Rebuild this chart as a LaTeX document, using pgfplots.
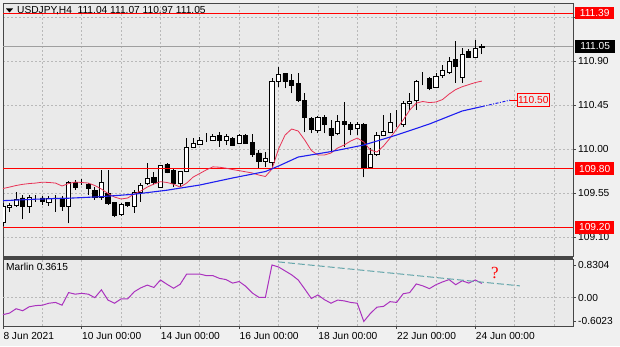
\documentclass[border=0pt]{standalone}
\usepackage{fontspec}
\setmainfont{Liberation Sans}
\newfontfamily\seriffont{Liberation Serif}
\usepackage{pgfplots}
\usepackage{pgfplotstable}
\pgfplotsset{compat=1.18}
\definecolor{figbg}{RGB}{240,240,240}
\definecolor{plotbg}{RGB}{234,234,234}
\definecolor{framec}{RGB}{70,70,70}
\definecolor{gridc}{RGB}{185,185,185}
\definecolor{maRed}{RGB}{232,50,85}
\definecolor{maBlue}{RGB}{30,30,240}
\definecolor{marlinc}{RGB}{170,50,190}
\definecolor{tealc}{RGB}{100,165,170}
\definecolor{lvlred}{RGB}{255,0,0}

\pgfplotstableread{
i O H L C
0 109.25 109.45 109.21 109.41
1 109.40 109.45 109.36 109.42
2 109.42 109.56 109.41 109.49
3 109.50 109.53 109.28 109.41
4 109.41 109.53 109.35 109.51
5 109.51 109.53 109.46 109.51
6 109.50 109.52 109.43 109.46
7 109.45 109.52 109.42 109.49
8 109.50 109.53 109.36 109.49
9 109.50 109.52 109.37 109.41
10 109.41 109.67 109.24 109.66
11 109.66 109.68 109.58 109.61
12 109.66 109.69 109.63 109.66
13 109.64 109.65 109.53 109.60
14 109.58 109.61 109.48 109.51
15 109.51 109.79 109.48 109.66
16 109.55 109.79 109.43 109.44
17 109.45 109.46 109.30 109.32
18 109.33 109.45 109.32 109.43
19 109.45 109.46 109.41 109.42
20 109.41 109.58 109.35 109.56
21 109.56 109.65 109.46 109.63
22 109.65 109.86 109.63 109.70
23 109.71 109.76 109.63 109.66
24 109.61 109.84 109.61 109.83
25 109.84 109.86 109.75 109.76
26 109.78 109.80 109.61 109.65
27 109.65 109.78 109.61 109.77
28 109.77 110.11 109.76 110.02
29 110.02 110.11 110.01 110.06
30 110.05 110.12 110.04 110.09
31 110.10 110.16 110.07 110.10
32 110.09 110.15 110.08 110.13
33 110.14 110.17 110.02 110.09
34 110.09 110.15 110.04 110.13
35 110.11 110.12 110.03 110.04
36 110.06 110.15 110.06 110.14
37 110.14 110.15 110.05 110.06
38 110.07 110.15 109.92 109.94
39 109.96 109.99 109.81 109.87
40 109.87 109.97 109.82 109.90
41 109.86 110.73 109.82 110.69
42 110.69 110.84 110.63 110.76
43 110.77 110.78 110.62 110.69
44 110.70 110.77 110.57 110.65
45 110.67 110.78 110.48 110.50
46 110.50 110.57 110.17 110.32
47 110.31 110.33 110.16 110.20
48 110.19 110.34 110.16 110.32
49 110.32 110.35 110.16 110.25
50 110.21 110.30 109.96 110.14
51 110.16 110.35 110.14 110.28
52 110.28 110.48 110.02 110.25
53 110.25 110.28 110.14 110.20
54 110.21 110.28 110.14 110.25
55 110.25 110.27 109.71 109.81
56 109.81 110.01 109.80 109.94
57 109.94 110.17 109.93 110.14
58 110.14 110.35 110.13 110.18
59 110.17 110.37 110.16 110.27
60 110.27 110.40 110.23 110.27
61 110.25 110.49 110.23 110.47
62 110.47 110.57 110.40 110.49
63 110.50 110.71 110.40 110.69
64 110.71 110.79 110.65 110.71
65 110.72 110.74 110.60 110.62
66 110.63 110.78 110.62 110.74
67 110.75 110.86 110.73 110.80
68 110.78 110.94 110.77 110.90
69 110.92 111.10 110.68 110.84
70 110.73 111.03 110.68 110.97
71 111.00 111.02 110.93 110.94
72 110.94 111.12 110.94 111.03
73 111.04 111.07 110.97 111.05
}\candles

\pgfplotstableread{
i v
0 109.596
1 109.611
2 109.627
3 109.639
4 109.647
5 109.652
6 109.661
7 109.658
8 109.652
9 109.622
10 109.647
11 109.662
12 109.658
13 109.652
14 109.627
15 109.591
16 109.545
17 109.509
18 109.489
19 109.499
20 109.540
21 109.571
22 109.611
23 109.642
24 109.666
25 109.658
26 109.640
27 109.611
28 109.652
29 109.714
30 109.750
31 109.787
32 109.818
33 109.814
34 109.804
35 109.790
36 109.779
37 109.767
38 109.755
39 109.734
40 109.719
41 109.795
42 110.000
43 110.143
44 110.205
45 110.184
46 110.092
47 109.985
48 109.939
49 109.939
50 109.959
51 110.010
52 110.041
53 110.082
54 110.112
55 110.071
56 109.990
57 109.969
58 110.031
59 110.112
60 110.205
61 110.297
62 110.399
63 110.470
64 110.486
65 110.475
66 110.481
67 110.506
68 110.562
69 110.608
70 110.637
71 110.659
72 110.680
73 110.695
}\redma

\pgfplotstableread{
i v
0 109.472
5 109.487
10 109.497
15 109.513
20 109.538
25 109.579
30 109.632
35 109.704
40 109.770
42 109.826
45 109.918
50 109.974
55 110.041
60 110.143
65 110.256
70 110.389
73 110.434
}\bluema

\pgfplotstableread{
i v
0 -0.43
1 -0.39
2 -0.28
3 -0.33
4 -0.23
5 -0.20
6 -0.19
7 -0.14
8 -0.12
9 -0.19
10 0.13
11 0.09
12 0.11
13 0.09
14 0.00
15 0.20
16 -0.06
17 -0.14
18 -0.03
19 -0.03
20 0.15
21 0.25
22 0.32
23 0.26
24 0.45
25 0.34
26 0.24
27 0.34
28 0.60
29 0.60
30 0.60
31 0.56
32 0.56
33 0.49
34 0.46
35 0.37
36 0.41
37 0.29
38 0.12
39 0.01
40 0.01
41 0.83
42 0.78
43 0.68
44 0.58
45 0.45
46 0.22
47 -0.02
48 0.07
49 -0.05
50 -0.14
51 -0.06
52 -0.08
53 -0.12
54 -0.14
55 -0.6023
56 -0.40
57 -0.24
58 -0.22
59 -0.10
60 -0.12
61 0.10
62 0.13
63 0.35
64 0.30
65 0.23
66 0.33
67 0.40
68 0.46
69 0.33
70 0.43
71 0.37
72 0.45
73 0.3615
}\marlin

\pgfplotsset{
  paneX/.style={scale only axis, width=570pt, xmin=0, xmax=86.89, enlargelimits=false,
    axis line style={framec, line width=0.8pt},
    tick label style={font=\fontsize{10.2pt}{12pt}\selectfont}},
  mainpane/.style={paneX, height=253pt, ymin=108.906, ymax=111.4935, at={(3pt,90pt)}, anchor=south west},
  indpane/.style={paneX, height=67pt, ymin=-0.718, ymax=0.982, at={(3pt,20pt)}, anchor=south west},
  mygrid/.style={gridc, dash pattern=on 2pt off 2pt, line width=0.7pt},
}

\begin{document}
\begin{tikzpicture}[font=\fontsize{10.2pt}{12pt}\selectfont]
\fill[figbg] (0,0) rectangle (620pt,346pt);
\useasboundingbox (0,0) rectangle (620pt,346pt);

% main pane: grid, ticks, wicks
\begin{axis}[mainpane, axis background/.style={fill=plotbg},
  xtick={0,6,...,84}, xticklabels={}, xtick style={draw=none}, xmajorgrids,
  ytick={109.10,109.55,110.00,110.45,110.90,111.35}, ymajorgrids,
  yticklabels={109.10,109.55,110.00,110.45,110.90,{}},
  ytick pos=right, yticklabel pos=right,
  tick align=outside, major tick length=3pt, ytick style={framec, line width=0.8pt},
  grid style={mygrid},
  yticklabel style={anchor=west, inner sep=0pt, xshift=2pt}]
  \addplot[gray!75, line width=0.7pt] coordinates {(0,111.05) (86.89,111.05)};
  \addplot[draw=none, error bars/.cd, y dir=plus, y explicit, error mark=none,
    error bar style={draw=black, line width=0.9pt, solid}]
    table[x=i, y=L, y error plus expr={\thisrow{H}-\thisrow{L}}] {\candles};
\end{axis}

% candle bodies
\begin{axis}[mainpane, hide axis, ybar stacked, bar width=4.2pt]
  \addplot[draw=none, fill=none] table[x=i, y expr={min(\thisrow{O},\thisrow{C})}] {\candles};
  \addplot[draw=black, fill=black, line width=0.8pt] table[x=i, y expr={max(\thisrow{O}-\thisrow{C},0)}] {\candles};
  \addplot[draw=black, fill=white, line width=0.8pt] table[x=i, y expr={max(\thisrow{C}-\thisrow{O},0)}] {\candles};
\end{axis}

% overlay: levels, moving averages, labels
\begin{axis}[mainpane, hide axis, clip=false]
  \addplot[lvlred, line width=0.8pt] coordinates {(0,111.39) (86.89,111.39)};
  \addplot[lvlred, line width=0.8pt] coordinates {(0,109.80) (86.89,109.80)};
  \addplot[lvlred, line width=0.8pt] coordinates {(0,109.20) (86.89,109.20)};
  \addplot[maRed, line width=0.8pt] table[x=i, y=v] {\redma};
  \addplot[maBlue, line width=1.1pt] table[x=i, y=v] {\bluema};
  \addplot[maBlue, line width=1pt, dash pattern=on 3pt off 1.5pt on 1pt off 1.5pt] coordinates {(73,110.434) (77.3,110.50)};
  \addplot[lvlred, line width=0.8pt] coordinates {(77.3,110.50) (78.3,110.50)};
  \node[draw=lvlred, fill=plotbg, text=lvlred, anchor=west, inner xsep=1pt, inner ysep=0pt,
    minimum height=13pt, line width=0.8pt] at (axis cs:78.3,110.50) {110.50};
  \node[fill=lvlred, text=white, anchor=west, minimum width=39pt, minimum height=12.5pt, inner sep=0pt, xshift=2pt]
    at (axis cs:86.89,111.39) {111.39};
  \node[fill=lvlred, text=white, anchor=west, minimum width=39pt, minimum height=12.5pt, inner sep=0pt, xshift=2pt]
    at (axis cs:86.89,109.80) {109.80};
  \node[fill=lvlred, text=white, anchor=west, minimum width=39pt, minimum height=12.5pt, inner sep=0pt, xshift=2pt]
    at (axis cs:86.89,109.20) {109.20};
  \node[fill=black, text=white, anchor=west, minimum width=40pt, minimum height=12.5pt, inner sep=0pt, xshift=2pt]
    at (axis cs:86.89,111.05) {111.05};
  \node[anchor=base west, inner sep=0pt, xshift=14pt, yshift=-11pt] at (rel axis cs:0,1)
    {USDJPY,H4\ \ 111.04 111.07 110.97 111.05};
\end{axis}

% indicator pane
\begin{axis}[indpane, axis background/.style={fill=plotbg}, clip=false,
  xtick={0,12,...,72}, xticklabels={}, minor xtick={6,18,30,42,54,66,78,84},
  xmajorgrids, xminorgrids, minor tick length=0pt, major tick length=3pt, tick align=outside,
  xtick pos=bottom, ytick pos=right, yticklabel pos=right,
  tick style={framec, line width=0.8pt},
  ytick={-0.6023,0,0.8304}, yticklabels={-0.6023,0.00,0.8304},
  yticklabel style={anchor=west, inner sep=0pt, xshift=2pt},
  grid style={mygrid}, minor grid style={mygrid}]
  \addplot[mygrid] coordinates {(0,0) (86.89,0)};
  \addplot[marlinc, line width=1pt] table[x=i, y=v] {\marlin};
  \addplot[tealc, line width=1pt, dash pattern=on 7pt off 3pt] coordinates {(41.9,0.91) (78.8,0.30)};
  \node[text=red, font=\seriffont\fontsize{17pt}{17pt}\selectfont] at (axis cs:75,0.63) {?};
  \node[anchor=base west, inner sep=0pt, xshift=3pt, yshift=-11.7pt] at (rel axis cs:0,1) {Marlin 0.3615};
  \node[anchor=base west, inner sep=0pt, xshift=0.3pt, yshift=-13.3pt] at (axis cs:0,-0.718) {8 Jun 2021};
  \node[anchor=base west, inner sep=0pt, xshift=0.3pt, yshift=-13.3pt] at (axis cs:12,-0.718) {10 Jun 00:00};
  \node[anchor=base west, inner sep=0pt, xshift=0.3pt, yshift=-13.3pt] at (axis cs:24,-0.718) {14 Jun 00:00};
  \node[anchor=base west, inner sep=0pt, xshift=0.3pt, yshift=-13.3pt] at (axis cs:36,-0.718) {16 Jun 00:00};
  \node[anchor=base west, inner sep=0pt, xshift=0.3pt, yshift=-13.3pt] at (axis cs:48,-0.718) {18 Jun 00:00};
  \node[anchor=base west, inner sep=0pt, xshift=0.3pt, yshift=-13.3pt] at (axis cs:60,-0.718) {22 Jun 00:00};
  \node[anchor=base west, inner sep=0pt, xshift=0.3pt, yshift=-13.3pt] at (axis cs:72,-0.718) {24 Jun 00:00};
\end{axis}

\fill[framec] (2.6pt,87pt) rectangle (573.4pt,90pt);
\fill[black] (6pt,337.5pt) -- (13pt,337.5pt) -- (9.5pt,333.5pt) -- cycle;
\end{tikzpicture}
\end{document}
